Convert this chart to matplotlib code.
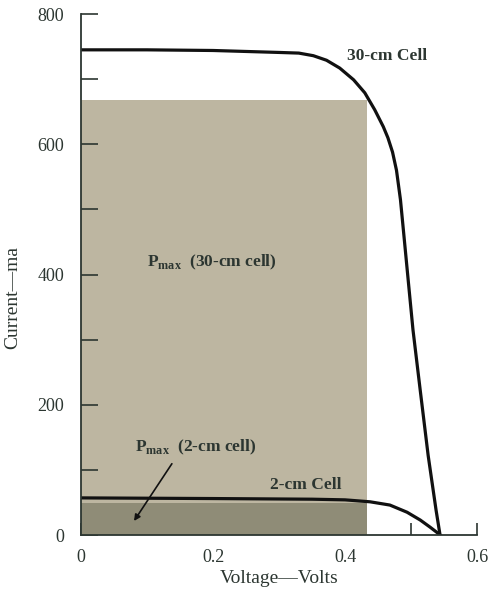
import matplotlib.pyplot as plt
from matplotlib.ticker import MultipleLocator, NullFormatter

plt.rcParams['font.family'] = ['Liberation Serif', 'DejaVu Serif']

# 30-cm cell I-V curve
V30 = [0, 0.1, 0.2, 0.30, 0.33, 0.352, 0.372, 0.392, 0.413, 0.430, 0.445, 0.458, 0.465,
       0.472, 0.478, 0.484, 0.490, 0.497, 0.503, 0.514, 0.526, 0.538, 0.544]
I30 = [745, 745, 744, 741, 740, 736, 729, 717, 699, 679, 653, 627, 610,
       588, 560, 515, 452, 378, 315, 222, 122, 38, 0]

# 2-cm cell I-V curve
V2 = [0, 0.2, 0.35, 0.40, 0.438, 0.468, 0.494, 0.514, 0.529, 0.538, 0.544]
I2 = [57, 56, 55, 54, 51, 46, 35, 23, 12, 5, 0]

# max power rectangles (V, I)
pmax30 = (0.433, 668)
pmax2 = (0.433, 49)

ink = '#2c3631'

fig = plt.figure(figsize=(4.91, 5.94), dpi=100)
ax = fig.add_axes([0.165, 0.0993, 0.8065, 0.8771])

ax.fill_between([0, pmax30[0]], 0, pmax30[1], color='#bdb6a1', lw=0, zorder=1)
ax.fill_between([0, pmax2[0]], 0, pmax2[1], color='#8f8c77', lw=0, zorder=2)

ax.plot(V30, I30, color='#111', lw=2.3, zorder=3, solid_joinstyle='round')
ax.plot(V2, I2, color='#111', lw=2.3, zorder=3, solid_joinstyle='round')

ax.text(0.403, 735, '30-cm Cell', fontsize=12.5, fontweight='bold', color=ink, va='center')
ax.text(0.286, 77, '2-cm Cell', fontsize=12.5, fontweight='bold', color=ink, va='center')
ax.text(0.10, 419, r'P$_{\mathregular{max}}$  (30-cm cell)', fontsize=12.5, fontweight='bold',
        color=ink, va='center')
ax.text(0.082, 135, r'P$_{\mathregular{max}}$  (2-cm cell)', fontsize=12.5, fontweight='bold',
        color=ink, va='center')
ax.annotate('', xy=(0.078, 18), xytext=(0.14, 113),
            arrowprops=dict(arrowstyle='-|>', color='#111', lw=1.2, mutation_scale=9), zorder=4)

ax.set_xlim(0, 0.6)
ax.set_ylim(0, 800)
ax.xaxis.set_minor_locator(MultipleLocator(0.1))
ax.xaxis.set_minor_formatter(NullFormatter())
ax.yaxis.set_minor_locator(MultipleLocator(100))
ax.yaxis.set_minor_formatter(NullFormatter())
ax.set_xticks([0, 0.2, 0.4, 0.6], ['0', '0.2', '0.4', '0.6'])
ax.set_yticks([0, 200, 400, 600, 800], ['0', '200', '400', '600', '800'])

ax.tick_params(axis='x', which='both', direction='in', length=8.5, width=1.2, color=ink,
               labelsize=13, labelcolor=ink, pad=10)
ax.tick_params(axis='y', which='both', direction='in', length=12, width=1.2, color=ink,
               labelsize=13, labelcolor=ink, pad=12)

for s in ['top', 'right']:
    ax.spines[s].set_visible(False)
for s in ['left', 'bottom']:
    ax.spines[s].set_color(ink)
    ax.spines[s].set_linewidth(1.3)
    ax.spines[s].set_zorder(5)

ax.set_xlabel('Voltage—Volts', fontsize=14, color=ink, labelpad=3)
ax.set_ylabel('Current—ma', fontsize=14, color=ink)
ax.yaxis.set_label_coords(-0.15, 0.455)

fig.savefig('out.png', dpi=100)
